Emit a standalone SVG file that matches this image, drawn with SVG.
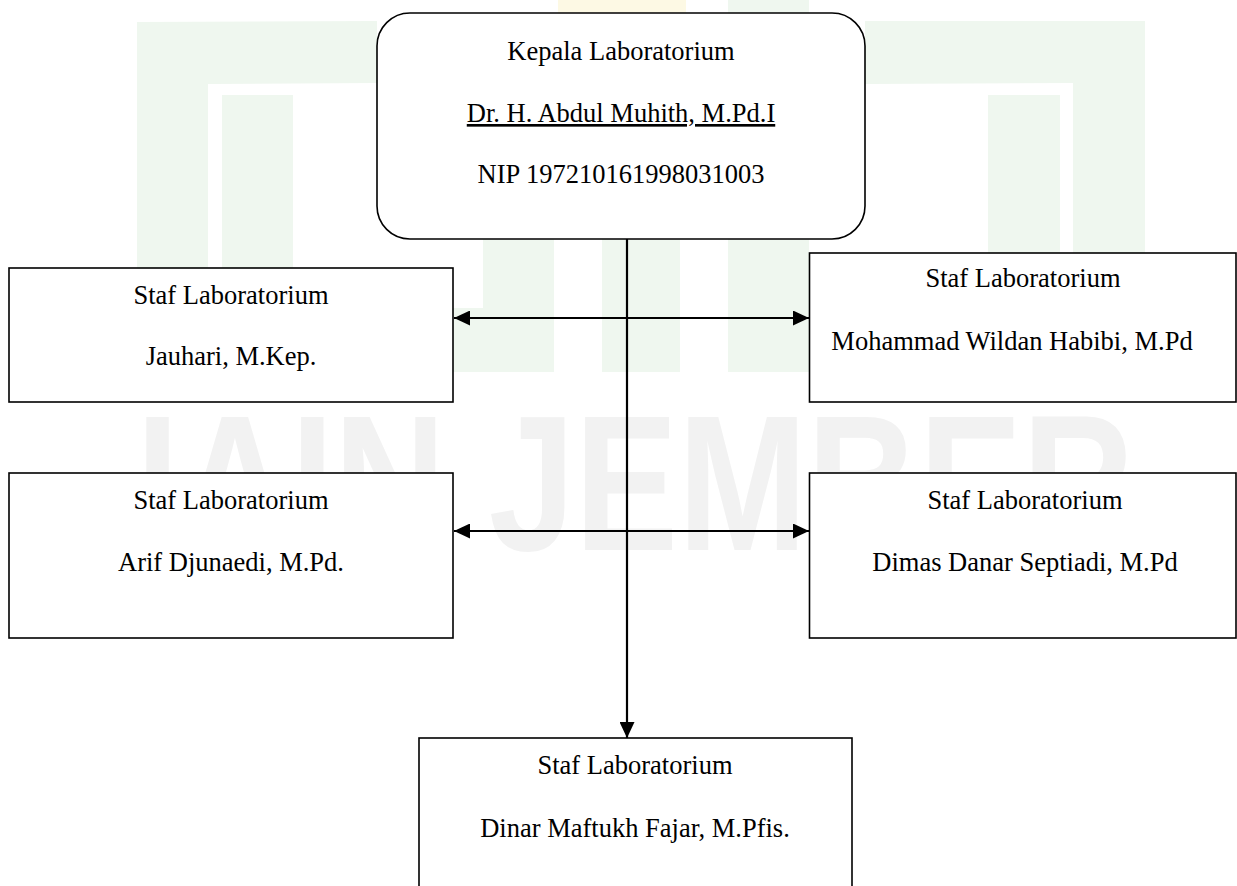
<svg xmlns="http://www.w3.org/2000/svg" width="1237" height="886" viewBox="0 0 1237 886">
<style>
.box{fill:#ffffff;stroke:#000000;stroke-width:1.6}
.t{font-family:"Liberation Serif","Times New Roman",serif;font-size:26.5px;fill:#000000;text-anchor:middle}
.conn{stroke:#000000;stroke-width:2.2;fill:none}
.wg{fill:#eff7ef}
.wy{fill:#fdf9e4}
.wt{font-family:"Liberation Sans",Arial,sans-serif;font-weight:bold;font-size:193px;fill:#f2f2f2}
</style>
<defs>
<marker id="ah" markerUnits="userSpaceOnUse" markerWidth="16" markerHeight="15" refX="16" refY="7.5" orient="auto-start-reverse">
<path d="M0,0 L16,7.5 L0,15 Z" fill="#000000"/>
</marker>
</defs>
<rect x="0" y="0" width="1237" height="886" fill="#ffffff"/>
<g id="watermark">
<path class="wg" d="M137,22 L377,21 L377,83 L208,84 L208,268 L137,268 Z"/>
<rect class="wg" x="222" y="95" width="71" height="173"/>
<path class="wg" d="M865,21 L1145,21 L1145,253 L1073,253 L1073,83 L865,84 Z"/>
<rect class="wg" x="988" y="95" width="72" height="158"/>
<path class="wg" d="M483,230 L554,230 L554,372 L453,372 L453,308 L483,308 Z"/>
<rect class="wg" x="602" y="230" width="78" height="142"/>
<rect class="wg" x="728" y="0" width="81" height="372"/>
<path class="wy" d="M558,0 L686,0 L686,14 L558,14 Z"/>
<text class="wt" x="136" y="550" textLength="998" lengthAdjust="spacingAndGlyphs">IAIN JEMBER</text>
</g>
<g id="connectors">
<line class="conn" x1="627" y1="239" x2="627" y2="738" marker-end="url(#ah)"/>
<line class="conn" x1="454" y1="318" x2="809" y2="318" marker-start="url(#ah)" marker-end="url(#ah)"/>
<line class="conn" x1="454" y1="531" x2="809" y2="531" marker-start="url(#ah)" marker-end="url(#ah)"/>
</g>
<g id="kepala">
<rect class="box" x="377" y="13" width="488" height="226" rx="33" ry="33"/>
<text class="t" x="621" y="60">Kepala Laboratorium</text>
<text class="t" x="621" y="122" text-decoration="underline">Dr. H. Abdul Muhith, M.Pd.I</text>
<text class="t" x="621" y="183">NIP 197210161998031003</text>
</g>
<g id="staf-jauhari">
<rect class="box" x="9" y="268" width="444" height="134"/>
<text class="t" x="231" y="304">Staf Laboratorium</text>
<text class="t" x="231" y="365">Jauhari, M.Kep.</text>
</g>
<g id="staf-wildan">
<rect class="box" x="809.5" y="253" width="426.5" height="149"/>
<text class="t" x="1023" y="287">Staf Laboratorium</text>
<text class="t" x="1012" y="350">Mohammad Wildan Habibi, M.Pd</text>
</g>
<g id="staf-arif">
<rect class="box" x="9" y="473" width="444" height="165"/>
<text class="t" x="231" y="509">Staf Laboratorium</text>
<text class="t" x="231" y="571">Arif Djunaedi, M.Pd.</text>
</g>
<g id="staf-dimas">
<rect class="box" x="809.5" y="473" width="426.5" height="165"/>
<text class="t" x="1025" y="509">Staf Laboratorium</text>
<text class="t" x="1025" y="571">Dimas Danar Septiadi, M.Pd</text>
</g>
<g id="staf-dinar">
<rect class="box" x="419" y="738" width="433" height="160"/>
<text class="t" x="635" y="774">Staf Laboratorium</text>
<text class="t" x="635" y="837">Dinar Maftukh Fajar, M.Pfis.</text>
</g>
</svg>
